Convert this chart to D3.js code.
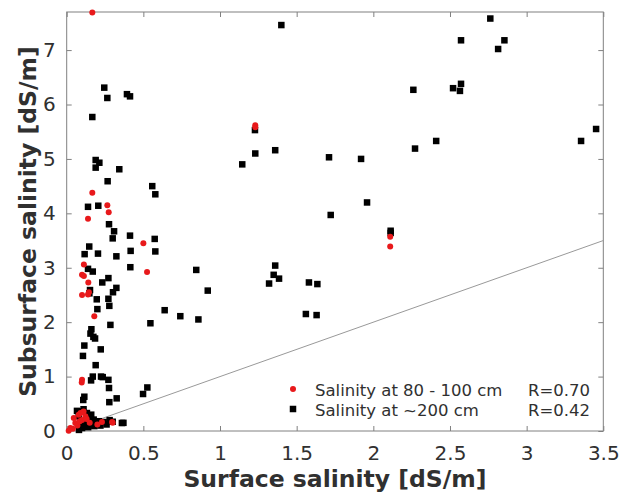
<!DOCTYPE html>
<html>
<head>
<meta charset="utf-8">
<script src="https://cdn.jsdelivr.net/npm/d3@7"></script>
<style>
  body { margin: 0; background: #fff; }
  text { font-family: "DejaVu Sans", sans-serif; }
</style>
</head>
<body>
<svg id="chart" width="629" height="493"></svg>
<script>
// salinity at 80 - 100 cm (red dots): [surface, subsurface]
const red80 = [
  [0.167, 7.69], [1.23, 5.62], [1.23, 5.58], [0.167, 4.38], [0.265, 4.15],
  [0.274, 4.02], [0.139, 3.90], [0.50, 3.45], [0.524, 2.92], [0.112, 3.06],
  [0.10, 2.87], [0.112, 2.85], [0.141, 2.73], [0.10, 2.50], [0.145, 2.55],
  [0.139, 2.51], [0.18, 2.11], [0.098, 0.89], [0.10, 0.94], [2.11, 3.57],
  [2.11, 3.39], [0.046, 0.24], [0.078, 0.30], [0.122, 0.27], [0.024, 0.055],
  [0.013, 0.005], [0.296, 0.165], [0.23, 0.165], [0.056, 0.147], [0.09, 0.33],
  [0.10, 0.20], [0.07, 0.10], [0.15, 0.15], [0.11, 0.36], [0.04, 0.04],
  [0.20, 0.12], [0.085, 0.18], [0.13, 0.22], [0.30, 0.15]
];

// salinity at ~200 cm (black squares)
const black200 = [
  [1.40, 7.46], [0.245, 6.31], [0.265, 6.12], [0.393, 6.19], [0.413, 6.15],
  [0.167, 5.77], [1.228, 5.53], [1.23, 5.10], [1.36, 5.16], [1.145, 4.90],
  [0.189, 4.98], [0.213, 4.93], [0.189, 4.84], [0.343, 4.81], [0.267, 4.59],
  [0.558, 4.50], [0.578, 4.35], [0.139, 4.12], [0.206, 4.14], [0.276, 3.80],
  [0.309, 3.67], [0.30, 3.54], [0.413, 3.59], [0.574, 3.53], [0.147, 3.39],
  [0.117, 3.25], [0.204, 3.26], [0.324, 3.21], [0.417, 3.31], [0.578, 3.30],
  [0.415, 3.01], [0.139, 2.98], [0.17, 2.93], [0.845, 2.96], [0.92, 2.58],
  [0.272, 2.81], [0.232, 2.73], [0.324, 2.63], [0.302, 2.55], [0.152, 2.59],
  [0.148, 2.53], [0.272, 2.43], [0.278, 2.30], [0.196, 2.42], [0.2, 2.24],
  [0.639, 2.22], [0.741, 2.11], [0.859, 2.05], [0.546, 1.98], [0.285, 1.95],
  [0.161, 1.87], [0.155, 1.79], [0.174, 1.73], [0.185, 1.70], [0.115, 1.57],
  [0.222, 1.50], [0.106, 1.38], [0.189, 1.21], [1.32, 2.71], [1.35, 2.87],
  [1.36, 3.04], [1.385, 2.80], [1.58, 2.73], [1.635, 2.70], [1.56, 2.15],
  [1.63, 2.13], [0.159, 0.93], [0.17, 1.00], [0.224, 1.00], [0.235, 0.99],
  [0.272, 0.94], [0.276, 0.79], [0.326, 0.60], [0.278, 0.53], [0.498, 0.68],
  [0.526, 0.80], [0.115, 0.63], [0.108, 0.57],
  [2.763, 7.58], [2.572, 7.18], [2.855, 7.18], [2.814, 7.02], [2.261, 6.27],
  [2.52, 6.30], [2.572, 6.38], [2.565, 6.25], [3.453, 5.55], [3.355, 5.33],
  [2.41, 5.33], [2.272, 5.19], [1.711, 5.03], [1.92, 5.00], [1.959, 4.20],
  [1.722, 3.97], [2.113, 3.68], [2.113, 3.64],
  [0.067, 0.37], [0.10, 0.36], [0.132, 0.33], [0.078, 0.27], [0.143, 0.24],
  [0.176, 0.21], [0.209, 0.18], [0.241, 0.165], [0.36, 0.147], [0.165, 0.116],
  [0.122, 0.086], [0.10, 0.055], [0.30, 0.17], [0.37, 0.15], [0.19, 0.14],
  [0.15, 0.18], [0.12, 0.13], [0.26, 0.12], [0.22, 0.10], [0.08, 0.02],
  [0.14, 0.07], [0.18, 0.09], [0.09, 0.16], [0.28, 0.20], [0.16, 0.30],
  [0.11, 0.40]
];

const xTicks = [0, 0.5, 1, 1.5, 2, 2.5, 3, 3.5];
const yTicks = [0, 1, 2, 3, 4, 5, 6, 7];
const oneToOne = [[0, 0], [3.5, 3.5]];
const legendLabels = ["Salinity at 80 - 100 cm", "Salinity at ~200 cm"];
const legendR = ["R=0.70", "R=0.42"];

const svg = d3.select("#chart");
const m = { left: 66.7, right: 603.3, top: 12, bottom: 431 };

const x = d3.scaleLinear().domain([0, 3.5]).range([m.left, m.right]);
const y = d3.scaleLinear().domain([0, 7.7]).range([m.bottom, m.top]);

const axisCol = "#808080";
const textCol = "#303030";

// box
svg.append("rect")
  .attr("x", m.left).attr("y", m.top)
  .attr("width", m.right - m.left).attr("height", m.bottom - m.top)
  .attr("fill", "none").attr("stroke", axisCol).attr("stroke-width", 1);

// axes, ticks pointing inwards
const styleAxis = g => {
  g.select(".domain").remove();
  g.selectAll(".tick line").attr("stroke", axisCol);
  g.selectAll(".tick text").attr("fill", textCol).style("font-size", "20px")
    .style("font-family", "DejaVu Sans, sans-serif");
};

svg.append("g").attr("transform", `translate(0,${m.bottom})`)
  .call(d3.axisBottom(x).tickValues(xTicks).tickFormat(d3.format("~g")).tickSizeInner(-5).tickPadding(15))
  .call(styleAxis);
svg.append("g").attr("transform", `translate(0,${m.top})`)
  .call(d3.axisTop(x).tickValues(xTicks).tickFormat("").tickSizeInner(-5))
  .call(styleAxis);
svg.append("g").attr("transform", `translate(${m.left},0)`)
  .call(d3.axisLeft(y).tickValues(yTicks).tickFormat(d3.format("~g")).tickSizeInner(-5).tickPadding(11))
  .call(styleAxis);
svg.append("g").attr("transform", `translate(${m.right},0)`)
  .call(d3.axisRight(y).tickValues(yTicks).tickFormat("").tickSizeInner(-5))
  .call(styleAxis);

// 1:1 line
svg.append("path")
  .datum(oneToOne)
  .attr("d", d3.line().x(d => x(d[0])).y(d => y(d[1])))
  .attr("stroke", "#999").attr("stroke-width", 1).attr("fill", "none");

// black squares
svg.append("g").selectAll("rect")
  .data(black200)
  .join("rect")
  .attr("x", d => x(d[0]) - 3.25).attr("y", d => y(d[1]) - 3.25)
  .attr("width", 6.5).attr("height", 6.5)
  .attr("fill", "#000");

// red dots
svg.append("g").selectAll("circle")
  .data(red80)
  .join("circle")
  .attr("cx", d => x(d[0])).attr("cy", d => y(d[1]))
  .attr("r", 3)
  .attr("fill", "#e8191b");

// legend
const lg = svg.append("g");
lg.append("circle").attr("cx", 293).attr("cy", 389).attr("r", 3).attr("fill", "#e8191b");
lg.append("rect").attr("x", 289.75).attr("y", 405.75).attr("width", 6.5).attr("height", 6.5).attr("fill", "#000");
legendLabels.forEach((t, i) => {
  lg.append("text").attr("x", 315).attr("y", 396 + i * 20)
    .attr("fill", textCol).style("font-size", "16.5px").text(t);
  lg.append("text").attr("x", 590).attr("y", 396 + i * 20).attr("text-anchor", "end")
    .attr("fill", textCol).style("font-size", "16.5px").text(legendR[i]);
});

// axis titles
svg.append("text")
  .attr("x", (m.left + m.right) / 2).attr("y", 487)
  .attr("text-anchor", "middle").attr("fill", textCol)
  .style("font-size", "23.5px").style("font-weight", "bold")
  .text("Surface salinity [dS/m]");

svg.append("text")
  .attr("transform", `translate(36,${(m.top + m.bottom) / 2}) rotate(-90)`)
  .attr("text-anchor", "middle").attr("fill", textCol)
  .style("font-size", "23.5px").style("font-weight", "bold")
  .text("Subsurface salinity [dS/m]");
</script>
</body>
</html>
